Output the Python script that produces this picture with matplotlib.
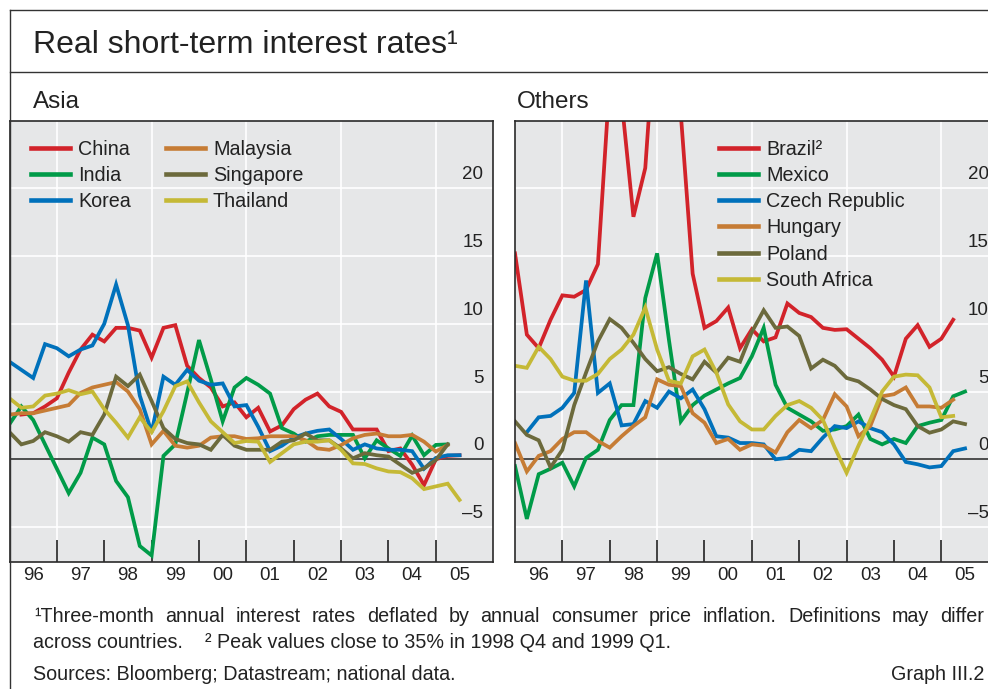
import numpy as np
import matplotlib
matplotlib.use('Agg')
import matplotlib.pyplot as plt
from matplotlib.lines import Line2D
from matplotlib.transforms import ScaledTranslation

plt.rcParams['font.family'] = ['Liberation Sans', 'DejaVu Sans']

nan = np.nan

# quarterly observations, 1996 Q1 .. 2005 Q3
quarters = 1996 + 0.25 * np.arange(39)

# ---- Asia -------------------------------------------------------------
china = [nan, 3.3, 3.4, 3.9, 4.5, 6.4, 8.1, 9.2, 8.7, 9.7, 9.7, 9.5, 7.5, 9.7, 9.9, 6.9,
         6.0, 5.3, 3.9, 4.2, 3.1, 3.8, 2.05, 2.5, 3.7, 4.4, 4.85, 3.9, 3.5, 2.2, 2.2, 2.2,
         0.6, 0.8, -0.4, -1.9, 0.0, 0.25, 0.3]
india = [2.6, 3.9, 2.9, 1.1, -0.7, -2.5, -1.0, 1.6, 1.1, -1.6, -2.8, -6.4, -7.1, 0.25, 1.1, 4.9,
         8.8, 5.9, 2.8, 5.3, 6.0, 5.5, 4.85, 2.3, 1.9, 1.3, 1.7, 1.8, 1.8, 1.8, 0.07, 1.4,
         0.8, 0.25, 1.75, 0.3, 1.06, 1.1, nan]
korea = [7.2, 6.6, 6.0, 8.5, 8.2, 7.6, 8.1, 8.4, 10.0, 12.9, 9.9, 4.7, 2.0, 6.1, 5.5, 6.6,
         5.8, 5.5, 5.6, 3.9, 4.0, 2.4, 0.6, 1.0, 1.6, 1.9, 2.1, 2.2, 1.5, 0.7, 1.1, 0.8,
         0.7, 0.7, 0.6, -0.7, 0.1, 0.3, 0.3]
malaysia = [3.3, 3.4, 3.4, 3.6, 3.8, 4.0, 4.9, 5.3, 5.5, 5.7, 5.0, 3.7, 1.1, 2.1, 1.0, 0.86,
            1.0, 1.6, 1.7, 1.7, 1.5, 1.55, 1.7, 1.7, 1.7, 1.4, 0.8, 0.7, 1.05, 1.55, 1.8, 1.9,
            1.7, 1.7, 1.8, 1.3, 0.57, 1.06, nan]
singapore = [2.0, 1.1, 1.35, 2.0, 1.7, 1.3, 2.0, 1.8, 3.3, 6.1, 5.4, 6.25, 4.3, 2.3, 1.5, 1.2,
             1.1, 0.7, 1.8, 1.0, 0.7, 0.7, 0.7, 1.3, 1.4, 1.9, 1.4, 1.4, 0.8, 0.07, 0.45, 0.3,
             0.2, -0.4, -1.0, -0.67, -0.05, 1.1, nan]
thailand = [4.5, 3.8, 3.9, 4.7, 4.85, 5.1, 4.8, 5.0, 3.7, 2.7, 1.6, 3.1, 2.0, 3.55, 5.4, 5.75,
            4.2, 2.8, 2.0, 1.2, 1.35, 1.3, -0.2, 0.45, 1.1, 1.3, 1.3, 1.4, 0.7, -0.3, -0.35, -0.67,
            -0.9, -0.95, -1.4, -2.2, -2.0, -1.8, -3.0]

# ---- Others -----------------------------------------------------------
brazil = [15.2, 9.2, 8.2, 10.3, 12.1, 12.0, 12.5, 14.4, 28.0, 26.5, 17.9, 21.5, 34.0, 35.0, 25.5, 13.7,
          9.7, 10.2, 11.2, 8.2, 9.6, 8.7, 9.0, 11.5, 10.8, 10.5, 9.7, 9.55, 9.6, 8.9, 8.2, 7.35,
          6.1, 8.9, 9.9, 8.3, 8.9, 10.3, nan]
mexico = [-0.5, -4.4, -1.1, -0.7, -0.25, -2.0, 0.1, 0.7, 2.9, 4.0, 4.0, 11.9, 15.2, 8.8, 2.8, 4.0,
          4.7, 5.15, 5.6, 6.0, 7.6, 9.7, 5.5, 3.8, 3.3, 2.8, 2.1, 2.2, 2.45, 3.3, 1.5, 1.1,
          1.5, 1.2, 2.45, 2.7, 2.9, 4.65, 5.0]
czech = [nan, 2.0, 3.1, 3.2, 3.8, 4.9, 13.2, 4.9, 5.6, 2.5, 2.6, 4.3, 3.8, 5.0, 4.5, 5.15,
         3.7, 1.7, 1.6, 1.2, 1.2, 1.1, 0.0, 0.1, 0.7, 0.6, 1.6, 2.45, 2.3, 2.8, 2.3, 2.0,
         1.1, -0.2, -0.37, -0.6, -0.5, 0.6, 0.8]
hungary = [1.2, -0.9, 0.25, 0.6, 1.5, 2.0, 2.0, 1.35, 0.86, 1.7, 2.45, 3.1, 5.9, 5.5, 5.4, 3.4,
           2.7, 1.2, 1.5, 0.7, 1.1, 1.0, 0.5, 2.0, 2.9, 2.3, 2.9, 4.8, 3.9, 1.7, 2.45, 4.65,
           4.8, 5.3, 3.9, 3.9, 3.8, 4.4, nan]
poland = [2.8, 1.8, 1.4, -0.6, 0.7, 4.0, 6.4, 8.7, 10.35, 9.7, 8.6, 7.4, 6.5, 6.8, 6.3, 5.9,
          7.2, 6.4, 7.5, 7.2, 9.4, 11.0, 9.7, 9.8, 9.1, 6.7, 7.35, 6.9, 6.0, 5.75, 5.15, 4.45,
          4.0, 3.7, 2.45, 1.96, 2.2, 2.8, 2.6]
south_africa = [6.9, 6.75, 8.3, 7.4, 6.1, 5.8, 5.8, 6.3, 7.4, 8.1, 9.2, 11.2, 8.1, 5.8, 5.6, 7.6,
                8.1, 6.4, 4.05, 2.8, 2.2, 2.2, 3.2, 4.0, 4.3, 3.8, 2.9, 0.86, -1.0, 1.0, 2.9, 5.0,
                6.1, 6.25, 6.2, 5.3, 3.1, 3.2, nan]

asia = [('China', china), ('India', india), ('Korea', korea),
        ('Malaysia', malaysia), ('Singapore', singapore), ('Thailand', thailand)]
others = [('Brazil\u00b2', brazil), ('Mexico', mexico), ('Czech Republic', czech),
          ('Hungary', hungary), ('Poland', poland), ('South Africa', south_africa)]

palette = ['#d2232a', '#009b48', '#0071bb', '#c67c35', '#6c6a3c', '#c5b936']

year_ticks = list(range(1997, 2006))
year_mids = [y + 0.5 for y in range(1996, 2006)]
year_labels = ['96', '97', '98', '99', '00', '01', '02', '03', '04', '05']
grid_years = [1997, 1999, 2001, 2003, 2005]
y_values = [-5, 0, 5, 10, 15, 20]

BG = '#e6e7e8'
INK = '#222222'
W, H = 988, 689

fig = plt.figure(figsize=(W / 100, H / 100), dpi=100)


def px_box(x0, y0, x1, y1):
    return [x0 / W, 1 - y1 / H, (x1 - x0) / W, (y1 - y0) / H]


def draw_panel(ax, series, legend_x, ncol):
    ax.set_facecolor(BG)
    for y in y_values:
        if y != 0:
            ax.axhline(y, color='white', lw=1.2, zorder=1)
    for x in grid_years:
        ax.axvline(x, color='white', lw=1.2, zorder=1)
    ax.axhline(0, color='#333333', lw=1.2, zorder=1.5)

    for (name, vals), col in zip(series, palette):
        ax.plot(quarters, vals, color=col, lw=2.7, label=name,
                solid_joinstyle='miter', zorder=2)

    ax.set_xlim(1996.0, 2006.2)
    ax.set_ylim(-7.56, 24.97)
    ax.set_yticks([])
    ax.set_xticks(year_ticks)
    ax.set_xticks(year_mids, year_labels, minor=True)
    ax.tick_params(axis='x', which='major', direction='in', length=16, width=1.2,
                   color=INK, labelbottom=False)
    ax.tick_params(axis='x', which='minor', length=0, pad=4, labelsize=13.5,
                   labelcolor=INK)
    for sp in ax.spines.values():
        sp.set_color('#2a2a2a')
        sp.set_linewidth(1.2)

    lift = ScaledTranslation(0, 0.09, fig.dpi_scale_trans)
    for v in y_values:
        ax.text(0.9805, v, str(v).replace('-', '\u2013'),
                transform=ax.get_yaxis_transform() + lift,
                ha='right', va='baseline', fontsize=13.5, color=INK)

    leg = ax.legend(loc='upper left', bbox_to_anchor=(legend_x, 0.958), ncol=ncol,
                    frameon=False, borderpad=0, borderaxespad=0, fontsize=14.2,
                    handlelength=1.95, handletextpad=0.42, columnspacing=1.8,
                    labelspacing=0.37)
    for h in leg.get_lines():
        h.set_linewidth(3.3)
    for t in leg.get_texts():
        t.set_color(INK)


ax1 = fig.add_axes(px_box(9.5, 121, 492.7, 561.7))
ax2 = fig.add_axes(px_box(515, 121, 998.2, 561.7))
draw_panel(ax1, asia, 0.0449, 2)
draw_panel(ax2, others, 0.423, 1)

# outer frame and title separator
frame_kw = dict(color='#333333', lw=1.0, transform=fig.transFigure)
fig.add_artist(Line2D([9.5 / W, 1], [1 - 10 / H, 1 - 10 / H], **frame_kw))
fig.add_artist(Line2D([9.5 / W, 9.5 / W], [1 - 10 / H, 0], **frame_kw))
fig.add_artist(Line2D([9.5 / W, 1], [1 - 72 / H, 1 - 72 / H], **frame_kw))


def ftext(x, y, s, size, **kw):
    return fig.text(x / W, 1 - y / H, s, fontsize=size, color=INK, va='baseline', **kw)


def justified(x0, x1, y, line, size):
    # spread the words of one footnote line over the full width
    words = line.split(' ')
    texts = [ftext(0, y, w, size) for w in words]
    r = fig.canvas.get_renderer()
    widths = [t.get_window_extent(r).width for t in texts]
    gap = (x1 - x0 - sum(widths)) / (len(words) - 1)
    x = x0
    for t, w in zip(texts, widths):
        t.set_x(x / W)
        x += w + gap


FN = 14.2
ftext(33, 53, 'Real short-term interest rates\u00b9', 23)
ftext(33, 108, 'Asia', 17.5)
ftext(517, 108, 'Others', 17.5)
justified(34, 984, 622, '\u00b9Three-month annual interest rates deflated by annual consumer '
          'price inflation. Definitions may differ', FN)
ftext(33, 648, 'across countries.', FN)
ftext(205, 648, '\u00b2 Peak values close to 35% in 1998 Q4 and 1999 Q1.', FN)
ftext(33, 680, 'Sources: Bloomberg; Datastream; national data.', FN)
ftext(984, 680, 'Graph III.2', FN, ha='right')

fig.savefig('out.png', dpi=100)
plt.close(fig)
